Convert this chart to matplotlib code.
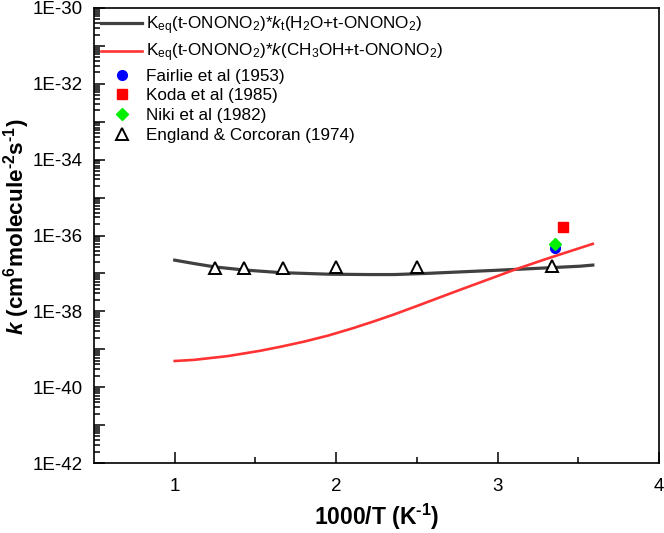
import matplotlib
matplotlib.use("Agg")
import matplotlib.pyplot as plt
import numpy as np
from matplotlib.ticker import FixedLocator, FuncFormatter, NullFormatter

plt.rcParams['font.family'] = ['Liberation Sans', 'DejaVu Sans']
plt.rcParams['mathtext.fontset'] = 'custom'
plt.rcParams['mathtext.rm'] = 'Liberation Sans'
plt.rcParams['mathtext.it'] = 'Liberation Sans:italic'
plt.rcParams['mathtext.bf'] = 'Liberation Sans:bold'
plt.rcParams['mathtext.bfit'] = 'Liberation Sans:italic:bold'

# Data (log10 k)
black_x = [1.0, 1.12, 1.25, 1.43, 1.66, 1.95, 2.2, 2.36, 2.56, 2.98, 3.18, 3.51, 3.59]
black_logk = [-36.65, -36.74, -36.83, -36.91, -36.98, -37.02, -37.03, -37.03, -37.0, -36.92, -36.88, -36.81, -36.78]

red_x = [1.0, 1.12, 1.33, 1.53, 1.66, 1.8, 1.95, 2.1, 2.23, 2.36, 2.5, 2.75, 2.98, 3.1, 3.3, 3.51, 3.59]
red_logk = [-39.31, -39.28, -39.18, -39.04, -38.93, -38.80, -38.64, -38.45, -38.27, -38.08, -37.86,
            -37.46, -37.10, -36.91, -36.62, -36.33, -36.22]

fairlie_x = [3.358]
fairlie_k = [4.6e-37]
koda_x = [3.405]
koda_k = [1.7e-36]
niki_x = [3.358]
niki_k = [5.9e-37]
england_x = [1.25, 1.43, 1.67, 2.0, 2.5, 3.34]
england_k = [1.35e-37, 1.4e-37, 1.42e-37, 1.47e-37, 1.5e-37, 1.59e-37]

labels = [
    r'K$_{\mathrm{eq}}$(t-ONONO$_2$)*$\mathit{k}_{\mathrm{t}}$(H$_2$O+t-ONONO$_2$)',
    r'K$_{\mathrm{eq}}$(t-ONONO$_2$)*$\mathit{k}$(CH$_3$OH+t-ONONO$_2$)',
    'Fairlie et al (1953)',
    'Koda et al (1985)',
    'Niki et al (1982)',
    'England & Corcoran (1974)',
]

fig = plt.figure(figsize=(6.64, 5.33), dpi=100)
ax = fig.add_axes([94/664, 1-463/533, 565/664, 455/533])

ax.plot(black_x, 10**np.array(black_logk), color='#404040', lw=2.3, label=labels[0], zorder=3)
ax.plot(red_x, 10**np.array(red_logk), color='#FF3333', lw=1.9, label=labels[1], zorder=3)
ax.plot(fairlie_x, fairlie_k, 'o', color='#0000FF', ms=7, ls='none', label=labels[2], zorder=4)
ax.plot(koda_x, koda_k, 's', color='#FF0000', ms=6.5, ls='none', label=labels[3], zorder=4)
ax.plot(niki_x, niki_k, 'D', color='#00EE00', ms=6.5, ls='none', label=labels[4], zorder=5)
ax.plot(england_x, england_k, '^', mfc='white', mec='black', mew=1.4, ms=8.5, ls='none', label=labels[5], zorder=4)

ax.set_yscale('log')
ax.set_xlim(0.5, 4)
ax.set_ylim(1e-42, 1e-30)

ax.xaxis.set_major_locator(FixedLocator([1, 2, 3, 4]))
ax.xaxis.set_minor_locator(FixedLocator([1.5, 2.5, 3.5]))
ax.set_xticklabels(['1', '2', '3', '4'])

majors = [10.0**e for e in range(-42, -29)]
ax.yaxis.set_major_locator(FixedLocator(majors))
minors = [m * 10.0**e for e in range(-42, -30) for m in range(2, 10)]
ax.yaxis.set_minor_locator(FixedLocator(minors))
def fmt(v, pos):
    e = int(round(np.log10(v)))
    return f'1E{e}' if e % 2 == 0 else ''
ax.yaxis.set_major_formatter(FuncFormatter(fmt))
ax.yaxis.set_minor_formatter(NullFormatter())

ax.tick_params(axis='both', which='both', direction='in', top=False, right=False, labelsize=13.5, width=1.1)
ax.tick_params(axis='y', which='major', length=8, pad=8)
ax.tick_params(axis='y', which='minor', length=4.5)
ax.tick_params(axis='x', which='major', length=8, pad=11)
ax.tick_params(axis='x', which='minor', length=4)
for s in ax.spines.values():
    s.set_linewidth(1.2)

ax.set_xlabel('1000/T (K$^{\\mathbf{\u2010}\\mathbf{1}}$)', fontsize=16.5, fontweight='bold', va='center')
ax.set_ylabel('$\\mathbfit{k}$ (cm$^{\\mathbf{6}}$molecule$^{\\mathbf{\u20102}}$s$^{\\mathbf{\u20101}}$)',
              fontsize=16.2, fontweight='bold')
ax.xaxis.set_label_coords(0.5, -(517-463)/455)
ax.yaxis.set_label_coords(-0.109, 0.52)

leg = ax.legend(loc='upper left', bbox_to_anchor=(0.0124, 0.986), frameon=False,
                fontsize=12.3, borderpad=0, borderaxespad=0, handlelength=2.4,
                handletextpad=0.25, labelspacing=0.27)

fig.savefig('out.png', dpi=100)
